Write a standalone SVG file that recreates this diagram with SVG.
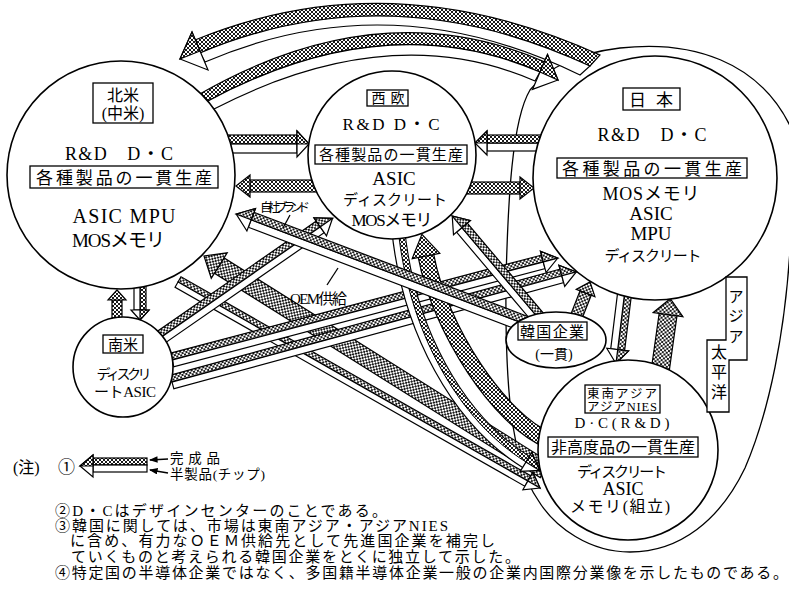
<svg xmlns="http://www.w3.org/2000/svg" width="789" height="597" viewBox="0 0 789 597">
<defs>
<pattern id="h" width="4" height="4" patternUnits="userSpaceOnUse"><rect width="4" height="4" fill="#fff"/><path d="M-1-1L5 5M5-1L-1 5" stroke="#000" stroke-width="0.9"/></pattern>
<marker id="m" viewBox="0 0 8 6" refX="7" refY="3" markerWidth="7" markerHeight="5" orient="auto"><path d="M0 0L8 3 0 6Z" fill="#000"/></marker>
<style>
.h{fill:url(#h);stroke:#000;stroke-width:1.2}
.w{fill:#fff;stroke:#000;stroke-width:1.2}
.n{fill:#fff;stroke:#000;stroke-width:1.6}
.bx{fill:#fff;stroke:#000;stroke-width:1.3}
.ln{fill:none;stroke:#000;stroke-width:1.3}
text{font-family:"Liberation Serif","Noto Sans CJK JP",serif;fill:#000}
.c{text-anchor:middle}
</style>
</defs>
<rect width="789" height="597" fill="#fff"/>

<!-- Asia-Pacific region boundary -->
<path id="asia-pacific-loop" class="ln" d="M538 500C555 528 590 552 630 552C680 552 720 520 745 468C770 410 785 330 790 250L792 130C760 60 690 40 620 48C580 53 550 65 530 90C512 120 508 200 506 280C505 380 510 460 538 500Z"/>

<g id="connectors">
<!-- top outer arc Japan -> North America -->
<g id="arc-jp-na">
<path class="h" d="M195 40Q390 -40 600 55L590 66Q390 -27 200 53Z"/>
<path class="w" d="M200 53Q390 -27 590 66L580 75Q390 -18 205 62Z"/>
<path class="w" d="M192 32L180 59 208 70Z"/>
<path class="h" d="M192 32L180 59 200 51Z"/>
</g>
<!-- top inner arc North America -> Japan -->
<g id="arc-na-jp">
<path class="h" d="M198 95Q380 -10 545 62L540 72Q385 5 206 102Z"/>
<path class="w" d="M206 102Q385 5 540 72L535 81Q390 18 214 109Z"/>
<path class="w" d="M547.5 54.6L558 80 532.5 89.4Z"/>
<path class="h" d="M547.5 54.6L558 80 540 72Z"/>
</g>
<!-- NA -> WE -->
<g transform="translate(226,144)"><rect class="h" x="0" y="-9" width="71" height="9"/><rect class="w" x="0" y="0" width="71" height="9"/><path class="w" d="M71-13L83 0 71 13Z"/><path class="h" d="M71-13L83 0H71Z"/></g>
<!-- WE -> NA -->
<g transform="translate(320,186) rotate(180)"><rect class="h" x="0" y="-6" width="70" height="12"/><path class="h" d="M70-11L84 0 70 11Z"/></g>
<!-- JP -> WE -->
<g transform="translate(545,143) rotate(180)"><rect class="w" x="0" y="-8" width="58" height="8"/><rect class="h" x="0" y="0" width="58" height="8"/><path class="w" d="M58-12L70 0 58 12Z"/><path class="h" d="M58 12L70 0H58Z"/></g>
<!-- WE -> JP -->
<g transform="translate(462,188)"><rect class="h" x="0" y="-6" width="58" height="12"/><path class="h" d="M58-11L72 0 58 11Z"/></g>
<!-- SA -> NA -->
<g transform="translate(117,322) rotate(-90)"><rect class="h" x="0" y="-5" width="22" height="10"/><path class="h" d="M22-9L32 0 22 9Z"/></g>
<!-- NA -> SA -->
<g transform="translate(140,284) rotate(90)"><rect class="h" x="0" y="-6" width="26" height="6"/><rect class="w" x="0" y="0" width="26" height="6"/><path class="w" d="M26-9L36 0 26 9Z"/><path class="h" d="M26-9L36 0H26Z"/></g>
<!-- SE Asia -> NA (wide) -->
<g transform="translate(545,470) rotate(-147.89)"><rect class="h" x="0" y="-9" width="384.6" height="18"/><path class="h" d="M384.6-15L402.6 0 384.6 15Z"/></g>
<!-- NA -> SE Asia -->
<g transform="translate(178,282) rotate(29.64)"><rect class="h" x="0" y="-6" width="402.5" height="6"/><rect class="w" x="0" y="0" width="402.5" height="6"/><path class="w" d="M402.5-10L416.5 0 402.5 10Z"/><path class="h" d="M402.5-10L416.5 0H402.5Z"/></g>
<!-- SA -> WE -->
<g transform="translate(160,338) rotate(-34.75)"><rect class="h" x="0" y="-7" width="195" height="7"/><rect class="w" x="0" y="0" width="195" height="7"/><path class="w" d="M195-11L210 0 195 11Z"/><path class="h" d="M195-11L210 0H195Z"/></g>
<!-- SA -> JP (upper) -->
<g transform="translate(172,360) rotate(-14.8)"><rect class="h" x="0" y="-7" width="384" height="7"/><rect class="w" x="0" y="0" width="384" height="7"/><path class="w" d="M384-11L399 0 384 11Z"/><path class="h" d="M384-11L399 0H384Z"/></g>
<!-- SA -> JP (lower) -->
<g transform="translate(172,382) rotate(-15.23)"><rect class="h" x="0" y="-7" width="404" height="7"/><rect class="w" x="0" y="0" width="404" height="7"/><path class="w" d="M404-11L419 0 404 11Z"/><path class="h" d="M404-11L419 0H404Z"/></g>
<!-- SE Asia -> WE (wide curve) -->
<g id="cur-se-we">
<path d="M548 440C500 420 440 330 426 256" fill="none" stroke="#000" stroke-width="17"/>
<path d="M548 440C500 420 440 330 426 256" fill="none" stroke="url(#h)" stroke-width="14.6"/>
<path class="h" d="M412.2 258.6L421.9 234.4 439.8 253.4Z"/>
</g>
<!-- WE -> SE Asia (curve) -->
<g id="cur-we-se">
<path d="M398 228C408 330 458 420 526 462" fill="none" stroke="#000" stroke-width="14"/>
<path d="M398 228C408 330 458 420 526 462" fill="none" stroke="#fff" stroke-width="11.6"/>
<path d="M401 228C411 330 460.2 418.2 527.6 459.4" fill="none" stroke="url(#h)" stroke-width="5.8"/>
<path d="M398 228C408 330 458 420 526 462" fill="none" stroke="#000" stroke-width="1"/>
<path class="w" d="M520.2 471.4L539.6 470.4 531.8 452.6Z"/>
<path class="h" d="M531.8 452.6L539.6 470.4 526 462Z"/>
</g>
<!-- Korea -> NA (own brand / OEM) -->
<g transform="translate(525,324) rotate(-159.16)"><rect class="w" x="0" y="-8" width="293" height="8"/><rect class="h" x="0" y="0" width="293" height="8"/><path class="w" d="M293-12L309 0 293 12Z"/><path class="h" d="M293 12L309 0H293Z"/></g>
<!-- Korea -> WE -->
<g transform="translate(540,320) rotate(-130.2)"><rect class="w" x="0" y="-7" width="121" height="7"/><rect class="h" x="0" y="0" width="121" height="7"/><path class="w" d="M121-11L136 0 121 11Z"/><path class="h" d="M121 11L136 0H121Z"/></g>
<!-- Korea -> JP -->
<g transform="translate(575,320) rotate(-68.5)"><rect class="h" x="0" y="-6" width="29" height="12"/><path class="h" d="M29-10L41 0 29 10Z"/></g>
<!-- JP -> SE Asia -->
<g transform="translate(625,290) rotate(97)"><rect class="h" x="0" y="-7" width="60" height="7"/><rect class="w" x="0" y="0" width="60" height="7"/><path class="w" d="M60-11L74 0 60 11Z"/><path class="h" d="M60-11L74 0H60Z"/></g>
<!-- SE Asia -> JP -->
<g transform="translate(660,372) rotate(-82)"><rect class="h" x="0" y="-9" width="58" height="18"/><path class="h" d="M58-15L74 0 58 15Z"/></g>
<!-- label leaders -->
<path class="ln" d="M290 215L283 228"/>
<path class="ln" d="M327 285L338 268"/>
</g>

<g id="north-america">
<circle class="n" cx="121" cy="175" r="114"/>
<rect class="bx" x="93" y="83" width="60" height="40"/>
<text class="c" x="123" y="101" font-size="16">北米</text>
<text class="c" x="123" y="119" font-size="16">(中米)</text>
<text class="c" x="119" y="160" font-size="18" textLength="108">R&amp;D　D・C</text>
<rect class="bx" x="30" y="166" width="188" height="22"/>
<text class="c" x="124" y="184" font-size="17" textLength="176">各種製品の一貫生産</text>
<text class="c" x="124" y="223" font-size="20" textLength="103">ASIC MPU</text>
<text x="72" y="247" font-size="19" textLength="93">MOSメモリ</text>
</g>

<g id="western-europe">
<circle class="n" cx="392" cy="155" r="84"/>
<rect class="bx" x="367" y="90" width="41" height="16"/>
<text class="c" x="388" y="103" font-size="14" textLength="33">西欧</text>
<text class="c" x="391" y="130" font-size="17" textLength="97">R&amp;D D・C</text>
<rect class="bx" x="315" y="145" width="152" height="19"/>
<text class="c" x="391" y="160" font-size="15" textLength="144">各種製品の一貫生産</text>
<text class="c" x="394" y="185" font-size="19">ASIC</text>
<text class="c" x="395" y="205" font-size="15" textLength="104">ディスクリート</text>
<text class="c" x="392" y="226" font-size="17" textLength="81">MOSメモリ</text>
</g>

<g id="japan">
<circle class="n" cx="655" cy="178" r="122"/>
<rect class="bx" x="623" y="88" width="57" height="22"/>
<text class="c" x="651" y="106" font-size="17" textLength="44">日本</text>
<text class="c" x="652" y="141" font-size="18" textLength="109">R&amp;D　D・C</text>
<rect class="bx" x="557" y="158" width="190" height="20"/>
<text class="c" x="652" y="175" font-size="17" textLength="180">各種製品の一貫生産</text>
<text class="c" x="651" y="200" font-size="18" textLength="97">MOSメモリ</text>
<text class="c" x="651" y="220" font-size="19">ASIC</text>
<text class="c" x="651" y="240" font-size="19">MPU</text>
<text class="c" x="653" y="261" font-size="15" textLength="97">ディスクリート</text>
</g>

<g id="south-america">
<circle class="n" cx="123" cy="367" r="50"/>
<rect class="bx" x="103" y="335" width="40" height="18"/>
<text class="c" x="123" y="350" font-size="15">南米</text>
<text class="c" x="124" y="379" font-size="14" textLength="55">ディスクリ</text>
<text class="c" x="125" y="397" font-size="15" textLength="62">ートASIC</text>
</g>

<g id="korea">
<ellipse class="n" cx="556" cy="340" rx="50" ry="28"/>
<rect class="bx" x="518" y="322" width="69" height="18"/>
<text class="c" x="552" y="337" font-size="15" textLength="64">韓国企業</text>
<text class="c" x="554" y="359" font-size="14">(一貫)</text>
</g>

<g id="southeast-asia">
<circle class="n" cx="628" cy="450" r="90"/>
<rect class="bx" x="585" y="385" width="75" height="28"/>
<text class="c" x="622" y="398" font-size="12.5" textLength="70">東南アジア</text>
<text class="c" x="622" y="411" font-size="12.5" textLength="70">アジアNIES</text>
<text class="c" x="622" y="428" font-size="15" textLength="95">D·C(R&amp;D)</text>
<rect class="bx" x="548" y="437" width="150" height="20"/>
<text class="c" x="623" y="453" font-size="16" textLength="144">非高度品の一貫生産</text>
<text class="c" x="622" y="477" font-size="15" textLength="90">ディスクリート</text>
<text class="c" x="623" y="495" font-size="18">ASIC</text>
<text class="c" x="620" y="512" font-size="16" textLength="100">メモリ(組立)</text>
</g>

<g id="asia-pacific-label">
<path class="bx" d="M726 277H747V360H729V412H707V340H726Z"/>
<text class="c" font-size="15"><tspan x="736" y="302">ア</tspan><tspan x="736" y="321">ジ</tspan><tspan x="736" y="342">ア</tspan></text>
<text class="c" font-size="16"><tspan x="719" y="358">太</tspan><tspan x="719" y="378">平</tspan><tspan x="719" y="398">洋</tspan></text>
</g>

<g id="labels">
<text x="260" y="212" font-size="12.5" textLength="50">自社ブランド</text>
<text x="290" y="304" font-size="15" textLength="57">OEM供給</text>
</g>

<g id="legend">
<text x="13" y="473" font-size="16">(注)</text>
<text x="58" y="473" font-size="17">①</text>
<rect class="h" x="93" y="458" width="54" height="7"/>
<rect class="w" x="93" y="465" width="54" height="7"/>
<path class="w" d="M93 455L80 466 93 477Z"/>
<path class="h" d="M93 455L80 466H93Z"/>
<path class="ln" d="M168 459L150 460" marker-end="url(#m)"/>
<path class="ln" d="M168 473L150 470" marker-end="url(#m)"/>
<text x="170" y="463" font-size="13.5" textLength="50">完成品</text>
<text x="170" y="479" font-size="13.5" textLength="95">半製品(チップ)</text>
</g>

<g id="notes" font-size="15">
<text x="55" y="516" textLength="332">②D・Cはデザインセンターのことである。</text>
<text x="55" y="531" textLength="393">③韓国に関しては、市場は東南アジア・アジアNIES</text>
<text x="70" y="546" textLength="425">に含め、有力なＯＥＭ供給先として先進国企業を補完し</text>
<text x="71" y="562" textLength="449">ていくものと考えられる韓国企業をとくに独立して示した。</text>
<text x="55" y="578" textLength="733">④特定国の半導体企業ではなく、多国籍半導体企業一般の企業内国際分業像を示したものである。</text>
</g>
</svg>
